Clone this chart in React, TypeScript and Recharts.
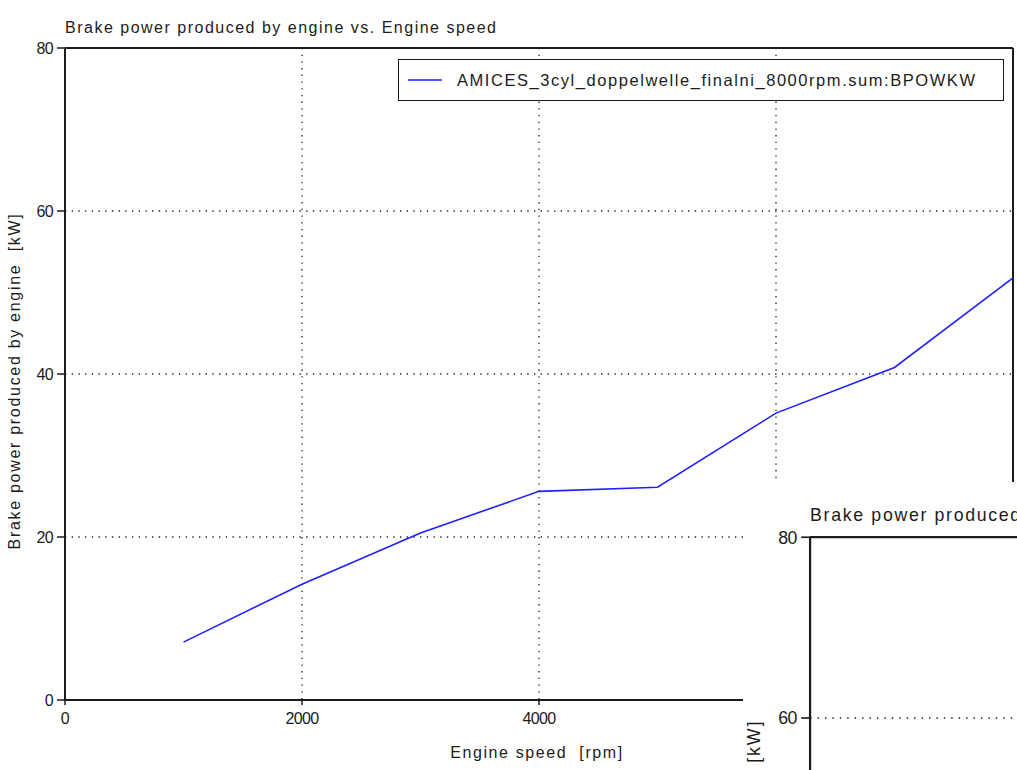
import { CartesianGrid, Legend, Line, LineChart, ReferenceLine, XAxis, YAxis } from 'recharts';

const SPEED_RPM = [1000, 2000, 3000, 4000, 5000, 6000, 7000, 8000];
const BRAKE_POWER_KW = [7.1, 14.2, 20.5, 25.6, 26.1, 35.2, 40.8, 51.8];
const X_TICKS = [0, 2000, 4000, 6000, 8000];
const Y_TICKS = [0, 20, 40, 60, 80];

const SERIES_NAME = 'AMICES_3cyl_doppelwelle_finalni_8000rpm.sum:BPOWKW';
const TITLE = 'Brake power produced by engine vs. Engine speed';
const X_LABEL = 'Engine speed\u00a0\u00a0[rpm]';
const Y_LABEL = 'Brake power produced by engine\u00a0\u00a0[kW]';

const data = SPEED_RPM.map((rpm, i) => ({ rpm, power: BRAKE_POWER_KW[i] }));

const FONT = "'Liberation Sans', Arial, sans-serif";
const INK = '#1c1c1c';
const LINE_BLUE = '#2020ff';
const TICK_STYLE = { fill: INK, fontSize: 16, fontFamily: FONT, letterSpacing: -0.6 };

function XTitle({ viewBox }: any) {
  const { x, width } = viewBox;
  return (
    <text x={x + width / 2 - 2} y={758} textAnchor="middle" fill={INK} fontSize={16} fontFamily={FONT} letterSpacing={1.6}>
      {X_LABEL}
    </text>
  );
}

function YTitle({ viewBox }: any) {
  const cy = viewBox.y + viewBox.height / 2 + 7;
  return (
    <text
      x={20}
      y={cy}
      transform={`rotate(-90 20 ${cy})`}
      textAnchor="middle"
      fill={INK}
      fontSize={16}
      fontFamily={FONT}
      letterSpacing={1.7}
    >
      {Y_LABEL}
    </text>
  );
}

function LegendBox() {
  return (
    <div
      style={{
        boxSizing: 'border-box',
        width: 606,
        height: 42,
        border: `1.5px solid ${INK}`,
        background: '#fff',
        display: 'flex',
        alignItems: 'center',
        fontFamily: FONT,
        fontSize: 16.5,
        letterSpacing: 1.55,
        color: INK,
      }}
    >
      <svg width={34} height={4} style={{ marginLeft: 9, marginRight: 15 }}>
        <line x1={0} y1={2} x2={34} y2={2} stroke={LINE_BLUE} strokeWidth={1.5} />
      </svg>
      <span>{SERIES_NAME}</span>
    </div>
  );
}

function BrakePowerChart() {
  return (
    <div style={{ position: 'relative', width: 1017, height: 770, background: '#fff' }}>
      <div
        style={{
          position: 'absolute',
          left: 65,
          top: 19,
          fontFamily: FONT,
          fontSize: 16,
          lineHeight: '18px',
          letterSpacing: 1.5,
          color: INK,
          whiteSpace: 'nowrap',
        }}
      >
        {TITLE}
      </div>
      <LineChart width={1017} height={770} data={data} margin={{ top: 48, right: 4, left: 10, bottom: 0 }}>
        <CartesianGrid stroke={INK} strokeWidth={1.3} strokeDasharray="1.3 5.4" />
        <XAxis
          type="number"
          dataKey="rpm"
          domain={[0, 8000]}
          ticks={X_TICKS}
          interval={0}
          height={70}
          axisLine={{ stroke: INK, strokeWidth: 2 }}
          tickLine={{ stroke: INK, strokeWidth: 1.5 }}
          tickSize={5}
          tickMargin={8}
          tick={TICK_STYLE}
          label={<XTitle />}
        />
        <YAxis
          type="number"
          domain={[0, 80]}
          ticks={Y_TICKS}
          interval={0}
          width={55}
          axisLine={{ stroke: INK, strokeWidth: 2 }}
          tickLine={{ stroke: INK, strokeWidth: 1.5 }}
          tickSize={8}
          tickMargin={4}
          tick={TICK_STYLE}
          label={<YTitle />}
        />
        <ReferenceLine y={80} stroke={INK} strokeWidth={2} />
        <ReferenceLine x={8000} stroke={INK} strokeWidth={2} />
        <Legend
          layout="horizontal"
          verticalAlign="middle"
          align="center"
          wrapperStyle={{ left: 398, top: 59, width: 606, height: 42 }}
          content={<LegendBox />}
        />
        <Line
          type="linear"
          dataKey="power"
          name={SERIES_NAME}
          stroke={LINE_BLUE}
          strokeWidth={1.6}
          dot={false}
          activeDot={false}
          isAnimationActive={false}
        />
      </LineChart>
    </div>
  );
}

export default function App() {
  return (
    <div style={{ position: 'fixed', left: 0, top: 0, width: 1017, height: 770, overflow: 'hidden', background: '#fff' }}>
      <BrakePowerChart />
      {/* second, slightly enlarged copy of the plot window stacked on the lower right */}
      <div
        style={{
          position: 'absolute',
          left: 743,
          top: 482,
          width: 274,
          height: 288,
          overflow: 'hidden',
          background: '#fff',
        }}
      >
        <div style={{ position: 'absolute', left: -5, top: 2, transform: 'scale(1.109)', transformOrigin: '0 0' }}>
          <BrakePowerChart />
        </div>
      </div>
    </div>
  );
}
